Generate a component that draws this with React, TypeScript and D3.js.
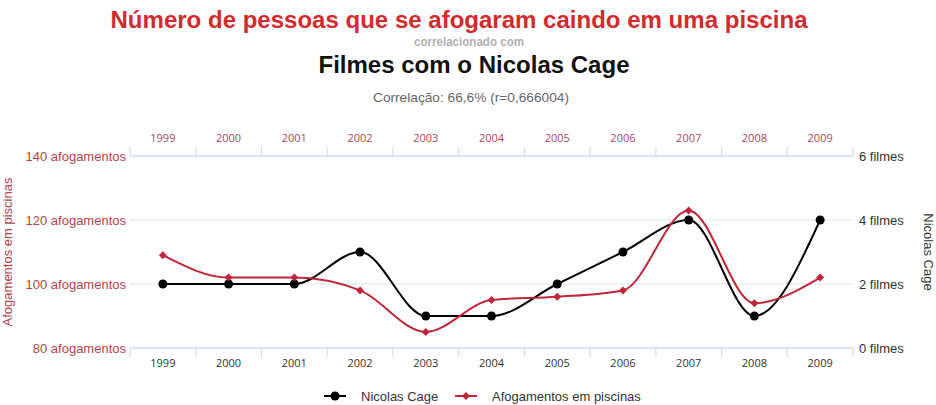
import React from 'react';
import * as d3 from 'd3';

const years = ['1999', '2000', '2001', '2002', '2003', '2004', '2005', '2006', '2007', '2008', '2009'];
const cageFilms = [2, 2, 2, 3, 1, 1, 2, 3, 4, 1, 4];
const drownings = [109, 102, 102, 98, 85, 95, 96, 98, 123, 94, 102];
const leftTicks = [80, 100, 120, 140];
const rightTicks = [0, 2, 4, 6];

const W = 936;
const H = 405;
const RED = '#bf2639';
const AXIS_RED = '#b5424f';
const YEAR_RED = '#a8485a';
const GRID = '#e0e3e6';

const App = () => {
    const margin = { top: 156, right: 83, bottom: 57, left: 130 };
    const innerW = W - margin.left - margin.right;
    const innerH = H - margin.top - margin.bottom;

    const x = d3.scaleBand().domain(years).range([margin.left, margin.left + innerW]);
    const cx = (d: string) => (x(d) as number) + x.bandwidth() / 2;
    const yL = d3.scaleLinear().domain([80, 140]).range([margin.top + innerH, margin.top]);
    const yR = d3.scaleLinear().domain([0, 6]).range([margin.top + innerH, margin.top]);

    const cageLine = d3.line<number>()
        .x((_, i) => cx(years[i]))
        .y(d => yR(d))
        .curve(d3.curveMonotoneX);
    const drownLine = d3.line<number>()
        .x((_, i) => cx(years[i]))
        .y(d => yL(d))
        .curve(d3.curveMonotoneX);

    const top = margin.top;
    const bottom = margin.top + innerH;
    const left = margin.left;
    const right = margin.left + innerW;
    const bounds = years.map(y => x(y) as number).concat([right]);

    const diamond = (px: number, py: number, r: number) =>
        `M${px},${py - r}L${px + r},${py}L${px},${py + r}L${px - r},${py}Z`;

    return (
        <svg width={W} height={H} style={{ position: 'absolute', left: 0, top: 0, background: '#fff' }}
            fontFamily="'Liberation Sans', Arial, sans-serif">
            {/* titles */}
            <text x={459} y={28} textAnchor="middle" fontSize={23} fontWeight="bold" fill="#d42a2e"
                textLength={697} lengthAdjust="spacingAndGlyphs">
                Número de pessoas que se afogaram caindo em uma piscina
            </text>
            <text x={469} y={46} textAnchor="middle" fontSize={12.5} fontWeight="bold" fill="#b0b0b0"
                textLength={110} lengthAdjust="spacingAndGlyphs">
                correlacionado com
            </text>
            <text x={474} y={73} textAnchor="middle" fontSize={23} fontWeight="bold" fill="#111"
                textLength={311} lengthAdjust="spacingAndGlyphs">
                Filmes com o Nicolas Cage
            </text>
            <text x={471} y={102} textAnchor="middle" fontSize={13} fill="#666"
                textLength={196} lengthAdjust="spacingAndGlyphs">
                Correlação: 66,6% (r=0,666004)
            </text>

            {/* grid */}
            {leftTicks.map(t => (
                <line key={t} x1={left} x2={right} y1={yL(t)} y2={yL(t)} stroke={GRID} strokeWidth={1} />
            ))}

            {/* top axis */}
            <line x1={left} x2={right} y1={top} y2={top} stroke="#ccd6eb" />
            {bounds.map((b, i) => (
                <line key={'tt' + i} x1={b} x2={b} y1={top - 9} y2={top} stroke="#ccd6eb" />
            ))}
            {years.map(y => (
                <text key={'ty' + y} x={cx(y)} y={top - 14} textAnchor="middle" fontSize={11}
                    fontFamily="'Open Sans', 'Noto Sans', sans-serif" fill={YEAR_RED}>{y}</text>
            ))}

            {/* bottom axis */}
            <line x1={left} x2={right} y1={bottom} y2={bottom} stroke="#ccd6eb" />
            {bounds.map((b, i) => (
                <line key={'bt' + i} x1={b} x2={b} y1={bottom} y2={bottom + 9} stroke="#ccd6eb" />
            ))}
            {years.map(y => (
                <text key={'by' + y} x={cx(y)} y={bottom + 19} textAnchor="middle" fontSize={11}
                    fontFamily="'Open Sans', 'Noto Sans', sans-serif" fill="#333">{y}</text>
            ))}

            {/* left axis */}
            {leftTicks.map(t => (
                <text key={'l' + t} x={left - 4} y={yL(t) + 4.5} textAnchor="end" fontSize={13} fill={AXIS_RED}>
                    {t} afogamentos
                </text>
            ))}
            <text transform={`translate(12,${(top + bottom) / 2}) rotate(-90)`} textAnchor="middle"
                fontSize={13} fill={AXIS_RED}>Afogamentos em piscinas</text>

            {/* right axis */}
            {rightTicks.map(t => (
                <text key={'r' + t} x={right + 6} y={yR(t) + 4.5} fontSize={13} fill="#333">
                    {t} filmes
                </text>
            ))}
            <text transform={`translate(924,${(top + bottom) / 2}) rotate(90)`} textAnchor="middle"
                fontSize={13} fill="#333">Nicolas Cage</text>

            {/* series */}
            <path d={cageLine(cageFilms) || ''} fill="none" stroke="#000" strokeWidth={2} />
            <path d={drownLine(drownings) || ''} fill="none" stroke={RED} strokeWidth={2} />
            {cageFilms.map((v, i) => (
                <circle key={'c' + i} cx={cx(years[i])} cy={yR(v)} r={4.5} fill="#000" />
            ))}
            {drownings.map((v, i) => (
                <path key={'d' + i} d={diamond(cx(years[i]), yL(v), 4)} fill={RED} />
            ))}

            {/* legend */}
            <g>
                <line x1={324} x2={346} y1={396} y2={396} stroke="#000" strokeWidth={2} />
                <circle cx={335} cy={396} r={4.5} fill="#000" />
                <text x={361} y={400.5} fontSize={13} fill="#333">Nicolas Cage</text>
                <line x1={455} x2={477} y1={396} y2={396} stroke={RED} strokeWidth={2} />
                <path d={diamond(466, 396, 4)} fill={RED} />
                <text x={492} y={400.5} fontSize={13} fill="#333">Afogamentos em piscinas</text>
            </g>
        </svg>
    );
};

export default App;
